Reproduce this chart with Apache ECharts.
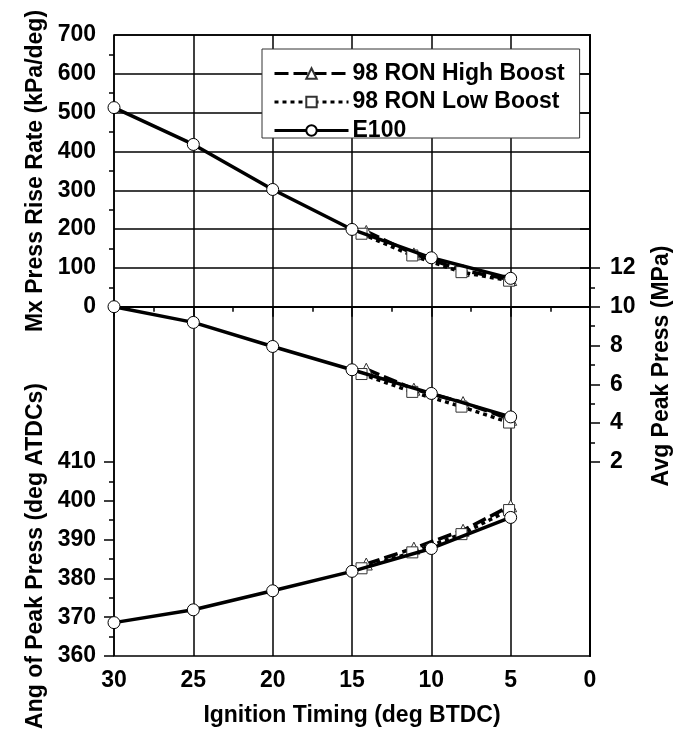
<!DOCTYPE html>
<html>
<head>
<meta charset="utf-8">
<script src="https://cdn.jsdelivr.net/npm/echarts@6/dist/echarts.min.js"></script>
<style>html,body{margin:0;padding:0;background:#fff}#c{width:689px;height:735px}</style>
</head>
<body>
<div id="c"></div>
<script>
// ---- data ----
const e100Timing = [30, 25, 20, 15, 10, 5];
const e100Mprr   = [513, 418, 302, 199, 126, 73];
const e100Press  = [10.0, 9.19, 7.95, 6.75, 5.53, 4.32];
const e100Angle  = [368.6, 371.9, 376.8, 381.8, 387.7, 395.7];

const highTiming = [14.1, 11.1, 8.0, 5.0];
const highMprr   = [194, 136, 93, 70];
const highPress  = [6.78, 5.75, 5.06, 4.2];
const highAngle  = [383.7, 387.8, 392.4, 398.7];

const lowTiming  = [14.4, 11.2, 8.1, 5.1];
const lowMprr    = [188, 132, 89, 67];
const lowPress   = [6.53, 5.61, 4.85, 4.03];
const lowAngle   = [382.6, 386.7, 391.4, 397.6];

const mprrTicks   = [0, 100, 200, 300, 400, 500, 600, 700];
const mprrMinor   = [50, 150, 250, 350, 450, 550, 650];
const angleTicks  = [360, 370, 380, 390, 400, 410];
const angleMinor  = [365, 375, 385, 395, 405];
const pressTicks  = [2, 4, 6, 8, 10, 12];
const pressMinor  = [3, 5, 7, 9, 11];

const names = ['98 RON High Boost', '98 RON Low Boost', 'E100'];

function pairs(xs, ys) { return xs.map((x, i) => [x, ys[i]]); }

const FONT = 'Liberation Sans, Arial, sans-serif';
const labelStyle = { fontFamily: FONT, fontWeight: 'bold', fontSize: 23, color: '#000' };

function yAx(o) {
  return Object.assign({
    type: 'value', splitLine: { show: false },
    axisLine: { show: false },
    axisTick: { show: false },
    axisLabel: { show: false }
  }, o);
}

const LW = 3.5;
const styles = [
  { symbol: 'triangle', symbolSize: 12, lineStyle: { color: '#000', width: LW, type: [14, 5] },
    itemStyle: { color: '#fff', borderColor: '#333', borderWidth: 1 } },
  { symbol: 'rect', symbolSize: 11, lineStyle: { color: '#000', width: LW, type: [4, 4] },
    itemStyle: { color: '#fff', borderColor: '#333', borderWidth: 1 } },
  { symbol: 'circle', symbolSize: 12, lineStyle: { color: '#000', width: LW },
    itemStyle: { color: '#fff', borderColor: '#000', borderWidth: 1 } }
];

const sets = [
  [highTiming, highMprr, highPress, highAngle],
  [lowTiming, lowMprr, lowPress, lowAngle],
  [e100Timing, e100Mprr, e100Press, e100Angle]
];

const series = [];
sets.forEach((s, k) => {
  [[s[1], 0], [s[2], 4], [s[3], 2]].forEach(([vals, yi]) => {
    series.push(Object.assign({
      type: 'line', name: names[k], yAxisIndex: yi, xAxisIndex: 0,
      data: pairs(s[0], vals), showAllSymbol: true, clip: false, z: 2 + k
    }, styles[k]));
  });
});

const chart = echarts.init(document.getElementById('c'), null, { renderer: 'canvas' });
chart.setOption({
  animation: false,
  backgroundColor: '#fff',
  grid: { left: 114, right: 99, top: 35, bottom: 79, show: true, borderColor: '#000', borderWidth: 1.5, backgroundColor: 'transparent' },
  legend: {
    data: names, orient: 'vertical', left: 262, top: 49,
    padding: [13, 15, -4, 11], itemGap: 5.5, itemWidth: 74, itemHeight: 13,
    backgroundColor: '#fff', borderColor: '#333', borderWidth: 1,
    selectedMode: false,
    lineStyle: { width: 3 },
    textStyle: { fontFamily: FONT, fontWeight: 'bold', fontSize: 23, color: '#000', lineHeight: 22, padding: [0, 0, 0, -1] }
  },
  xAxis: [{
    type: 'value', inverse: true, min: 0, max: 30, interval: 5,
    axisLine: { show: true, lineStyle: { color: '#000', width: 2 } },
    axisTick: { show: true, length: 10, lineStyle: { color: '#000', width: 1.5 } },
    minorTick: { show: true, splitNumber: 2, length: 5, lineStyle: { color: '#000', width: 1.5 } },
    splitLine: { show: true, lineStyle: { color: '#000', width: 1.5 } },
    axisLabel: Object.assign({ margin: 13 }, labelStyle)
  }],
  yAxis: [
    // 0: max pressure rise rate (left)
    yAx({ position: 'left', min: -900, max: 700, interval: 100,
      axisLine: { show: true, lineStyle: { color: '#000', width: 2 } },
      axisTick: { show: true, length: 10, customValues: mprrTicks, lineStyle: { color: '#000', width: 1.5 } },
      axisLabel: Object.assign({ show: true, margin: 18, customValues: mprrTicks }, labelStyle),
      splitLine: { show: true, lineStyle: { color: '#000', width: 1.5 } } }),
    yAx({ position: 'left', min: -900, max: 700, interval: 100,
      axisTick: { show: true, length: 5, customValues: mprrMinor, lineStyle: { color: '#000', width: 1.5 } } }),
    // 2: angle of peak pressure (left)
    yAx({ position: 'left', min: 360, max: 520, interval: 10,
      axisTick: { show: true, length: 10, customValues: angleTicks, lineStyle: { color: '#000', width: 1.5 } },
      axisLabel: Object.assign({ show: true, margin: 18, customValues: angleTicks }, labelStyle) }),
    yAx({ position: 'left', min: 360, max: 520, interval: 10,
      axisTick: { show: true, length: 5, customValues: angleMinor, lineStyle: { color: '#000', width: 1.5 } } }),
    // 4: avg peak pressure (right)
    yAx({ position: 'right', min: -8, max: 24, interval: 2,
      axisLine: { show: true, lineStyle: { color: '#000', width: 1.5 } },
      axisTick: { show: true, length: 10, customValues: pressTicks, lineStyle: { color: '#000', width: 1.5 } },
      axisLabel: Object.assign({ show: true, margin: 20, customValues: pressTicks }, labelStyle) }),
    yAx({ position: 'right', min: -8, max: 24, interval: 2,
      axisTick: { show: true, length: 5, customValues: pressMinor, lineStyle: { color: '#000', width: 1.5 } } })
  ],
  graphic: [
    { type: 'text', x: 36, y: 171, rotation: Math.PI / 2,
      style: { text: 'Mx Press Rise Rate (kPa/deg)', font: 'bold 23px ' + FONT, fill: '#000', align: 'center', verticalAlign: 'middle' } },
    { type: 'text', x: 36, y: 556, rotation: Math.PI / 2,
      style: { text: 'Ang of Peak Press (deg ATDCs)', font: 'bold 23px ' + FONT, fill: '#000', align: 'center', verticalAlign: 'middle' } },
    { type: 'text', x: 662, y: 366, rotation: Math.PI / 2,
      style: { text: 'Avg Peak Press (MPa)', font: 'bold 23px ' + FONT, fill: '#000', align: 'center', verticalAlign: 'middle' } },
    { type: 'text', x: 352, y: 716,
      style: { text: 'Ignition Timing (deg BTDC)', font: 'bold 23px ' + FONT, fill: '#000', align: 'center', verticalAlign: 'middle' } }
  ],
  series: series
});
</script>
</body>
</html>
